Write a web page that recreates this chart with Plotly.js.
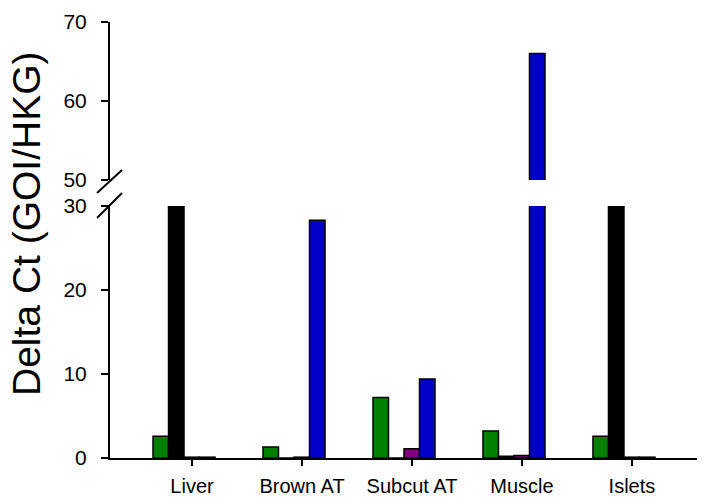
<!DOCTYPE html>
<html>
<head>
<meta charset="utf-8">
<script src="https://cdn.plot.ly/plotly-3.0.1.min.js"></script>
<style>
  html, body { margin: 0; padding: 0; background: #fff; }
  #chart { width: 705px; height: 498px; }
</style>
</head>
<body>
<div id="chart"></div>
<script>
// Tissue categories and Delta Ct values per gene series
var categories = ['Liver', 'Brown AT', 'Subcut AT', 'Muscle', 'Islets'];
var greenSeries = [2.6, 1.3, 7.2, 3.2, 2.6];
var blackSeries = [30, 0, 0, 0.2, 30];
var purpleSeries = [0.1, 0.1, 1.1, 0.3, 0.1];
var blueSeries = [0.1, 28.3, 9.4, 66, 0.1];

var lowerTicks = [0, 10, 20, 30];
var upperTicks = [50, 60, 70];

var series = [
  { values: greenSeries, color: '#008000' },
  { values: blackSeries, color: '#000000' },
  { values: purpleSeries, color: '#800080' },
  { values: blueSeries, color: '#0000C8' }
];

var idx = categories.map(function (_, i) { return i; });
var barW = 0.141;
var groupStart = -0.282;
var tickShift = 0.0727;

var traces = [];
series.forEach(function (s, k) {
  ['y', 'y2'].forEach(function (ya) {
    traces.push({
      type: 'bar',
      x: idx,
      y: s.values,
      yaxis: ya,
      xaxis: 'x',
      width: barW,
      offset: groupStart + k * barW,
      marker: { color: s.color, line: { color: '#000', width: 1.5 } },
      hoverinfo: 'skip'
    });
  });
});

var font = 'Liberation Sans, Arial, sans-serif';

// broken axis slashes (paper coordinates)
function px2x(p) { return (p - 110) / 587; }
function py2y(p) { return (458 - p) / 436; }

var layout = {
  width: 705,
  height: 498,
  margin: { l: 110, r: 8, t: 22, b: 40 },
  showlegend: false,
  barmode: 'overlay',
  paper_bgcolor: '#fff',
  plot_bgcolor: '#fff',
  font: { family: font, color: '#000' },
  xaxis: {
    range: [-0.673, 4.664],
    tickvals: idx.map(function (i) { return i + tickShift; }),
    ticktext: categories,
    ticks: 'outside', ticklen: 6, tickwidth: 1.5, tickcolor: '#000',
    showline: true, linewidth: 2, linecolor: '#000',
    showgrid: false, zeroline: false,
    tickfont: { family: font, size: 20, color: '#000' },
    ticklabelstandoff: 3,
    anchor: 'y', fixedrange: true
  },
  yaxis: {
    domain: [0, 0.578],
    range: [0, 30],
    tickvals: lowerTicks,
    ticks: 'outside', ticklen: 7, tickwidth: 1.5, tickcolor: '#000',
    showline: true, linewidth: 2, linecolor: '#000',
    showgrid: false, zeroline: false,
    tickfont: { family: font, size: 21, color: '#000' },
    ticklabelstandoff: 10,
    anchor: 'x', fixedrange: true
  },
  yaxis2: {
    domain: [0.6376, 1],
    range: [50, 70],
    tickvals: upperTicks,
    ticks: 'outside', ticklen: 7, tickwidth: 1.5, tickcolor: '#000',
    showline: true, linewidth: 2, linecolor: '#000',
    showgrid: false, zeroline: false,
    tickfont: { family: font, size: 21, color: '#000' },
    ticklabelstandoff: 10,
    anchor: 'x', fixedrange: true
  },
  shapes: [
    { type: 'line', xref: 'paper', yref: 'paper',
      x0: px2x(97), y0: py2y(193), x1: px2x(122), y1: py2y(170),
      line: { color: '#000', width: 2 } },
    { type: 'line', xref: 'paper', yref: 'paper',
      x0: px2x(97), y0: py2y(218), x1: px2x(122), y1: py2y(193),
      line: { color: '#000', width: 2 } }
  ],
  annotations: [
    { text: 'Delta Ct (GOI/HKG)', xref: 'paper', yref: 'paper',
      x: px2x(26), y: py2y(224), textangle: -90,
      xanchor: 'center', yanchor: 'middle', showarrow: false,
      font: { family: font, size: 39, color: '#000' } }
  ]
};

Plotly.newPlot('chart', traces, layout, { displayModeBar: false, staticPlot: true });
</script>
</body>
</html>
